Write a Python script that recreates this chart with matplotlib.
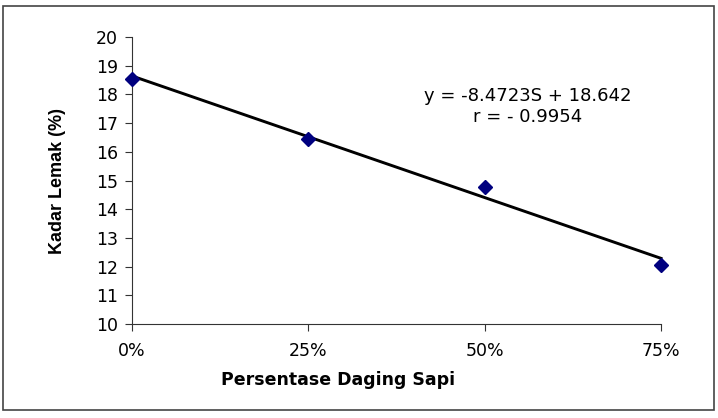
import numpy as np
import matplotlib.pyplot as plt
from matplotlib.patches import Rectangle

# data
persen = [0.0, 0.25, 0.50, 0.75]
kadar_lemak = [18.55, 16.45, 14.78, 12.05]
x_labels = ["0%", "25%", "50%", "75%"]
slope = -8.4723
intercept = 18.642
eq_text = "y = -8.4723S + 18.642\nr = - 0.9954"

plt.rcParams['font.family'] = ['DejaVu Sans']

fig = plt.figure(figsize=(7.18, 4.18), dpi=100)
ax = fig.add_axes([132 / 718, 1 - 324 / 418, (661 - 132) / 718, (324 - 37) / 418])

xs = np.array([persen[0], persen[-1]])
ax.plot(xs, slope * xs + intercept, color="black", lw=2.1, zorder=2, clip_on=False)
ax.plot(persen, kadar_lemak, linestyle="none", marker="D", markersize=7.5,
        color="#00007f", zorder=3, clip_on=False)

ax.set_xlim(0, 0.75)
ax.set_ylim(10, 20)
ax.set_xticks(persen)
ax.set_xticklabels(x_labels)
ax.set_yticks(range(10, 21))
ax.tick_params(axis="both", labelsize=12.5, length=5, width=0.8, color="#333333")
ax.tick_params(axis="x", pad=8)
ax.tick_params(axis="y", pad=5)
for s in ["top", "right"]:
    ax.spines[s].set_visible(False)
for s in ["left", "bottom"]:
    ax.spines[s].set_color("#333333")
    ax.spines[s].set_linewidth(0.8)

ax.set_xlabel("Persentase Daging Sapi", fontsize=12.5, fontweight="bold", va="center")
ax.xaxis.set_label_coords((338 - 132) / 529, -(380 - 324) / 287)
ax.set_ylabel("Kadar Lemak (%)", fontsize=13, fontweight="bold", va="center",
              family=["Liberation Sans Narrow", "Liberation Sans"])
ax.yaxis.set_label_coords((57 - 132) / 529, 0.5)

ax.text(528 / 718, 1 - 106.5 / 418, eq_text, transform=fig.transFigure,
        ha="center", va="center", fontsize=13, linespacing=1.25)

fig.patches.append(Rectangle((3 / 718, 1 - 410 / 418), 711 / 718, 404 / 418,
                             transform=fig.transFigure, fill=False,
                             edgecolor="#444444", lw=1.2))

fig.savefig("out.png", dpi=100)
